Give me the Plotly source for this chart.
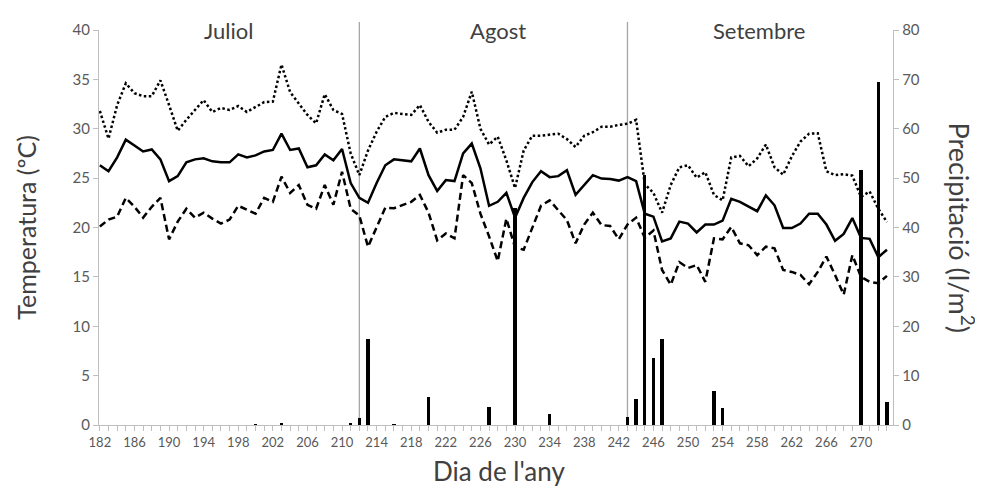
import plotly.graph_objects as go

days = list(range(182, 274))

t_mean = [26.3, 25.7, 27.1, 28.9, 28.3, 27.7, 27.9, 26.9, 24.7, 25.2,
          26.6, 26.9, 27.0, 26.7, 26.6, 26.6, 27.4, 27.1, 27.3, 27.7,
          27.85, 29.5, 27.85, 28.0, 26.1, 26.3, 27.4, 26.8, 27.95, 24.5,
          23.0, 22.5, 24.5, 26.3, 26.9, 26.8, 26.7, 28.0, 25.3, 23.7,
          24.8, 24.7, 27.5, 28.5, 26.0, 22.2, 22.6, 23.5, 21.0, 23.0,
          24.6, 25.7, 25.1, 25.2, 25.8, 23.3, 24.3, 25.3, 24.95, 24.9,
          24.75, 25.1, 24.7, 21.4, 21.1, 18.6, 18.9, 20.6, 20.4, 19.5,
          20.3, 20.3, 20.7, 22.9, 22.6, 22.1, 21.65, 23.25, 22.25, 19.95,
          19.95, 20.4, 21.4, 21.4, 20.3, 18.65, 19.35, 20.95, 18.95, 18.85,
          17.0, 17.75]

t_max = [31.8, 29.0, 32.4, 34.6, 33.6, 33.3, 33.3, 34.9, 32.4, 29.8,
         30.9, 31.9, 32.9, 31.7, 32.1, 31.9, 32.3, 31.7, 32.2, 32.7,
         32.75, 36.5, 33.7, 32.5, 31.4, 30.55, 33.5, 31.9, 31.5, 27.5,
         25.3, 27.8, 29.7, 31.2, 31.6, 31.5, 31.4, 32.4, 30.7, 29.6,
         29.9, 29.9, 31.2, 33.75, 30.0, 28.4, 29.2, 26.8, 24.0, 27.8,
         29.3, 29.3, 29.4, 29.5, 28.95, 28.15, 29.3, 29.65, 30.2, 30.2,
         30.4, 30.5, 30.9, 24.4, 23.5, 21.5, 24.3, 26.1, 26.3, 25.05,
         25.6, 23.3, 22.75, 27.1, 27.25, 26.2, 27.0, 28.4, 26.1, 25.35,
         27.2, 28.7, 29.5, 29.55, 25.7, 25.3, 25.4, 25.25, 23.1, 23.65,
         21.9, 20.55]

t_min = [20.1, 20.8, 21.1, 23.0, 22.1, 21.0, 22.1, 23.0, 18.8, 20.6,
         21.9, 21.0, 21.5, 20.9, 20.4, 20.8, 22.2, 21.8, 21.4, 23.0,
         22.6, 25.15, 23.5, 24.3, 22.3, 21.9, 24.3, 22.3, 25.65, 21.9,
         21.2, 18.05, 20.0, 22.0, 21.95, 22.3, 22.6, 23.3, 21.5, 18.7,
         19.4, 18.9, 25.3, 24.5, 21.4, 19.1, 16.6, 20.9, 18.0, 17.75,
         20.0, 22.2, 22.75, 21.8, 20.75, 18.4, 20.3, 21.5, 20.25, 20.15,
         18.8, 20.3, 21.0, 18.95, 19.7, 15.7, 14.2, 16.5, 15.9, 16.2,
         14.5, 18.9, 18.8, 20.05, 18.4, 18.2, 17.2, 18.06, 17.9, 15.7,
         15.5, 15.2, 14.25, 15.5, 17.05, 15.2, 13.2, 17.2, 15.0, 14.5,
         14.35, 15.1]

precip_days = [200, 203, 211, 212, 213, 216, 220, 227, 230, 234,
               243, 244, 245, 246, 247, 253, 254, 270, 272, 273]
precip_vals = [0.1, 0.3, 0.3, 1.4, 17.4, 0.1, 5.7, 3.7, 44.0, 2.2,
               1.6, 5.2, 50.6, 13.6, 17.4, 6.9, 3.4, 51.6, 69.5, 4.7]

month_names = ["Juliol", "Agost", "Setembre"]
month_label_days = [196.9, 228.0, 258.2]
month_end_days = [212, 243]

x_tick_vals = list(range(182, 271, 4))

FONT = "Lato"
GREY = "#bfbfbf"
TXT = "#404040"
TICK = "#595959"

fig = go.Figure()

fig.add_trace(go.Scatter(x=days, y=t_max, mode="lines", name="Tmax",
                         line=dict(color="black", width=2.5, dash="2.5px,2.5px")))
fig.add_trace(go.Scatter(x=days, y=t_mean, mode="lines", name="Tmitjana",
                         line=dict(color="black", width=2.5)))
fig.add_trace(go.Scatter(x=days, y=t_min, mode="lines", name="Tmin",
                         line=dict(color="black", width=2.5, dash="7px,4px")))
fig.add_trace(go.Bar(x=precip_days, y=precip_vals, yaxis="y2", name="Precipitació",
                     marker=dict(color="black", line=dict(width=0)), width=0.38))

for d in month_end_days:
    fig.add_shape(type="line", xref="x", yref="paper", x0=d, x1=d, y0=0, y1=1.02,
                  line=dict(color="#a6a6a6", width=1.3), layer="below")

for name, d in zip(month_names, month_label_days):
    fig.add_annotation(x=d, y=1.0, xref="x", yref="paper", text=name, showarrow=False,
                       font=dict(family=FONT, size=22, color=TXT), yanchor="middle")

fig.add_annotation(x=-0.093, y=0.5, xref="paper", yref="paper",
                   text="Temperatura (ºC)", textangle=-90, showarrow=False,
                   font=dict(family=FONT, size=25, color=TXT), xanchor="center", yanchor="middle")
fig.add_annotation(x=1.087, y=0.5, xref="paper", yref="paper",
                   text="Precipitació (l/m<sup>2</sup>)", textangle=90, showarrow=False,
                   font=dict(family=FONT, size=27, color=TXT), xanchor="center", yanchor="middle")
fig.add_annotation(x=0.504, y=-0.1165, xref="paper", yref="paper",
                   text="Dia de l'any", showarrow=False,
                   font=dict(family=FONT, size=26, color=TXT), xanchor="center", yanchor="middle")

fig.update_layout(
    width=975, height=483,
    margin=dict(l=91, r=90, t=22, b=66, autoexpand=False),
    paper_bgcolor="white", plot_bgcolor="white",
    showlegend=False,
    font=dict(family=FONT, color=TXT),
    bargap=0,
    xaxis=dict(range=[181.9, 273.7], tickvals=x_tick_vals, ticktext=[str(v) for v in x_tick_vals],
               showline=True, linecolor=GREY, linewidth=1.3, ticks="outside", tickcolor=GREY,
               ticklen=5, showgrid=False, zeroline=False, automargin=False,
               tickfont=dict(family=FONT, size=13, color=TICK),
               minor=dict(dtick=1, tick0=182, ticks="outside", ticklen=5, tickcolor=GREY, showgrid=False)),
    yaxis=dict(range=[0, 40], dtick=5, showline=True, linecolor=GREY, linewidth=1.3,
               ticks="outside", tickcolor=GREY, ticklen=5, showgrid=False, zeroline=False,
               automargin=False, tickfont=dict(family=FONT, size=15, color=TICK)),
    yaxis2=dict(range=[0, 80], dtick=10, overlaying="y", side="right", showline=True,
                linecolor=GREY, linewidth=1.3, ticks="outside", tickcolor=GREY, ticklen=5,
                showgrid=False, zeroline=False, automargin=False,
                tickfont=dict(family=FONT, size=15, color=TICK)),
)

fig.write_html("out.html")
